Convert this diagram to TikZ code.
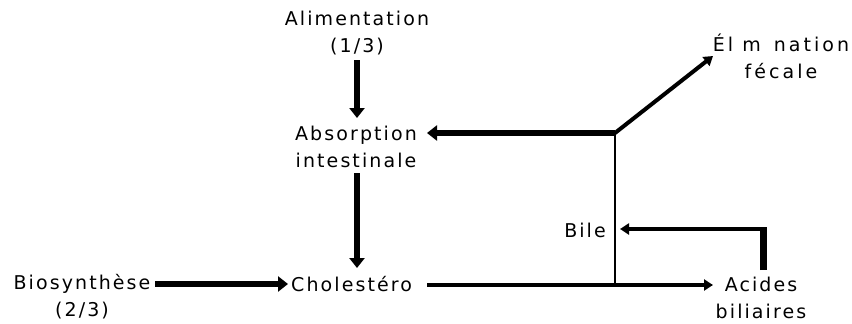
\documentclass[tikz,border=0pt]{standalone}
\usepackage{fontspec}
\setmainfont{DejaVu Sans}[LetterSpace=11]
\newfontfamily\widefont{DejaVu Sans}[LetterSpace=16]
\usetikzlibrary{arrows.meta}
\begin{document}
\begin{tikzpicture}[x=1pt,y=-1pt,
  lbl/.style={font=\fontsize{19}{27}\selectfont, align=center, inner sep=0pt},
  thickarrow/.style={line width=6pt,-{Triangle[length=10pt,width=15pt]}},
  medarrow/.style={line width=4pt,-{Triangle[length=9pt,width=11pt]}},
  thinline/.style={line width=2.5pt}]
\useasboundingbox (0,0) rectangle (852,324);
\node[lbl] (alim) at (357,33) {Alimentation\\(1/3)};
\node[lbl] (abs) at (356,147) {Absorption\\intestinale};
\node[lbl, anchor=west] (chol) at (291,284) {Cholestéro};
\node[lbl] (bio) at (82,297) {Biosynthèse\\(2/3)};
\node[lbl, font=\widefont\fontsize{19}{27}\selectfont] (elim) at (781,56) {Él m\hspace{4pt} nation\\fécale};
\node[lbl] (acid) at (761,298) {Acides\\biliaires};
\node[lbl, anchor=east] (bile) at (606,230) {Bile};
\coordinate (J1) at (615,133);
\coordinate (J2) at (615,285);
\coordinate (A1) at (763,270);
\coordinate (A2) at (763,229);
\draw[thickarrow] (357,60) -- (357,118);
\draw[thickarrow] (357,173) -- (357,268);
\draw[thickarrow] (155,284) -- (288,284);
\draw[thickarrow] (J1) -- (427,133);
\draw[medarrow] (J1) -- (713,56);
\draw[thinline] (J1) -- (J2);
\draw[medarrow] (427,285) -- (713,285);
\draw[line width=7pt] (A1) -- ([yshift=-2pt]A2);
\draw[line width=4.5pt,-{Triangle[length=9pt,width=11pt]}] ([xshift=3.5pt]A2) -- (620,229);
\end{tikzpicture}
\end{document}
